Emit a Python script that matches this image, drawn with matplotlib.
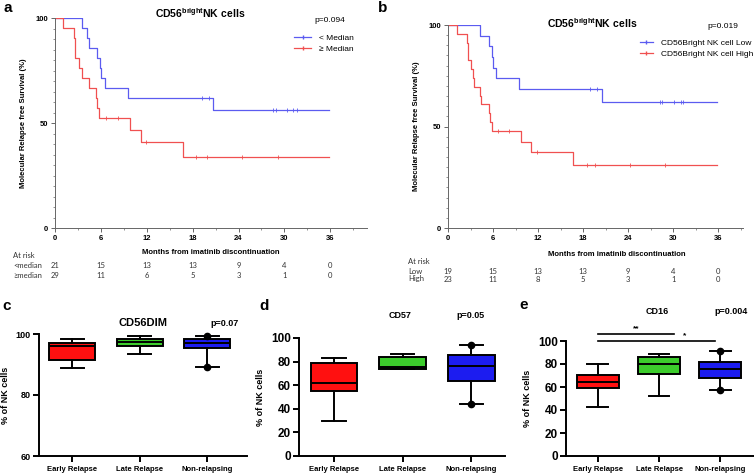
import numpy as np
import matplotlib
matplotlib.use('Agg')
import matplotlib.pyplot as plt
from matplotlib.lines import Line2D
from matplotlib.ticker import MultipleLocator
import matplotlib.transforms as mtransforms

plt.rcParams['font.family'] = ['Liberation Sans', 'DejaVu Sans']
plt.rcParams['mathtext.fontset'] = 'custom'
plt.rcParams['mathtext.rm'] = 'Liberation Sans'
plt.rcParams['mathtext.bf'] = 'Liberation Sans:bold'

# --- Kaplan-Meier data (months, % survival) ---
a_low_t = [0, 3.5, 4.2, 4.4, 5.5, 5.9, 6.0, 6.5, 9.5, 20.6, 35.8]
a_low_s = [100, 95.2, 90.5, 85.7, 81.0, 76.2, 71.4, 66.7, 61.9, 56.3, 56.3]
a_low_cens = [19.2, 20.1, 28.5, 28.9, 30.3, 31.1, 31.6]
a_high_t = [0, 1.0, 2.5, 2.55, 2.6, 3.1, 3.5, 4.4, 5.3, 5.5, 5.8, 9.8, 11.2, 16.7, 35.8]
a_high_s = [100, 95.2, 90.5, 85.7, 81.0, 76.2, 71.4, 66.7, 61.9, 57.1, 52.4, 46.6, 40.8, 34.0, 34.0]
a_high_cens = [6.7, 8.2, 11.9, 18.5, 19.9, 24.5, 29.1]

b_low_t = [0, 4.2, 5.5, 5.9, 6.0, 6.4, 9.5, 20.5, 35.8]
b_low_s = [100, 94.7, 89.5, 84.2, 78.9, 73.7, 68.4, 62.2, 62.2]
b_low_cens = [18.9, 19.8, 28.2, 28.5, 30.1, 31.1, 31.3]
b_high_t = [0, 1.2, 2.5, 2.6, 2.7, 3.1, 3.3, 3.4, 4.3, 4.35, 5.4, 5.6, 5.85, 9.7, 11.1, 16.7, 35.8]
b_high_s = [100, 95.7, 91.3, 87.0, 82.6, 78.3, 73.9, 69.6, 65.2, 60.9, 56.5, 52.2, 47.8, 42.6, 37.3, 31.0, 31.0]
b_high_cens = [6.65, 8.1, 11.8, 18.5, 19.6, 24.3, 28.9]

risk_times = [0, 6, 12, 18, 24, 30, 36]
a_risk_low = [21, 15, 13, 13, 9, 4, 0]
a_risk_high = [29, 11, 6, 5, 3, 1, 0]
b_risk_low = [19, 15, 13, 13, 9, 4, 0]
b_risk_high = [23, 11, 8, 5, 3, 1, 0]

# --- box plot summaries: (whislo, q1, med, q3, whishi) ---
groups = ['Early Relapse', 'Late Relapse', 'Non-relapsing']
cd56dim = [(88.7, 91.4, 96.2, 97.0, 98.4), (93.5, 96.2, 97.3, 98.4, 99.2), (89.3, 95.4, 97.0, 98.4, 99.3)]
cd57 = [(30.0, 54.8, 62.0, 79.0, 83.1), (73.4, 73.9, 75.6, 83.9, 86.1), (43.8, 63.7, 76.2, 85.3, 93.9)]
cd16 = [(42.8, 58.9, 64.6, 70.3, 79.6), (51.8, 71.7, 79.6, 86.4, 88.7), (57.5, 68.0, 75.4, 81.6, 91.0)]
box_colors = ['#ff1010', '#3ccc2c', '#1c1cf0']

W, H = 754, 476
fig = plt.figure(figsize=(W / 100, H / 100), dpi=100)


def px_axes(l, r, t, b):
    return fig.add_axes([l / W, 1 - b / H, (r - l) / W, (b - t) / H])


def fx(x):
    return x / W


def fy(y):
    return 1 - y / H


blue_km = '#5b5bf0'
red_km = '#f05050'
risk_kw = dict(fontsize=5.5, va='center', family=['Lato', 'DejaVu Sans'], color='#333333')


def km(ax, t, s, cens, color):
    ax.step(t, s, where='post', color=color, lw=0.9)
    idx = np.searchsorted(t, cens, side='right') - 1
    ax.plot(cens, np.array(s)[idx], ls='none', marker='|', ms=2.5, mew=0.6, color=color)


def km_axes(ax, xmax):
    ax.set_xlim(0, xmax)
    ax.set_ylim(0, 100)
    for sp in ['top', 'right']:
        ax.spines[sp].set_visible(False)
    for sp in ['left', 'bottom']:
        ax.spines[sp].set_color('#666666')
        ax.spines[sp].set_linewidth(0.7)
    ax.set_xticks(risk_times)
    ax.xaxis.set_minor_locator(MultipleLocator(3))
    ax.set_yticks([0, 50, 100])
    ax.yaxis.set_minor_locator(MultipleLocator(5))
    ax.tick_params(which='major', length=3, width=0.7, color='#666666', labelsize=5.5, pad=2)
    ax.tick_params(which='minor', length=1.5, width=0.5, color='#666666')
    for lab in ax.get_xticklabels() + ax.get_yticklabels():
        lab.set_fontweight('bold')
    ax.set_ylabel('Molecular Relapse free Survival (%)', fontsize=5.5, fontweight='bold', labelpad=6)


def km_legend(ax, labels, x, y, hl):
    h = [Line2D([0, 0.5, 1], [0, 0, 0], color=blue_km, lw=0.9, marker='|', ms=2.5, markevery=[1]),
         Line2D([0, 0.5, 1], [0, 0, 0], color=red_km, lw=0.9, marker='|', ms=2.5, markevery=[1])]
    ax.legend(h, labels, loc='upper left', bbox_to_anchor=(fx(x), fy(y)),
              bbox_transform=fig.transFigure, frameon=False, fontsize=6, handlelength=hl,
              handletextpad=1.0, labelspacing=0.35, borderpad=0)


# panel a
ax = px_axes(55, 367, 18, 228)
km(ax, a_low_t, a_low_s, a_low_cens, blue_km)
km(ax, a_high_t, a_high_s, a_high_cens, red_km)
km_axes(ax, 40.8)
km_legend(ax, ['< Median', '\u2265 Median'], 290, 30, 2.0)
fig.text(fx(200), fy(13), r'$\mathbf{CD56^{bright}NK\ cells}$', ha='center', va='center', fontsize=7.5)
fig.text(fx(330), fy(21), 'p=0.094', ha='center', va='center', fontsize=6)
fig.text(fx(4), fy(8), 'a', fontsize=11, fontweight='bold', va='center')
tr = mtransforms.blended_transform_factory(ax.transData, fig.transFigure)
fig.text(fx(211), fy(253), 'Months from imatinib discontinuation', ha='center', va='center',
         fontsize=5.5, fontweight='bold')
fig.text(fx(13), fy(256), 'At risk', **risk_kw)
fig.text(fx(13), fy(266), '<median', **risk_kw)
fig.text(fx(13), fy(276), '\u2265median', **risk_kw)
for tt, n1, n2 in zip(risk_times, a_risk_low, a_risk_high):
    ax.text(tt, fy(266), str(n1), transform=tr, ha='center', **risk_kw)
    ax.text(tt, fy(276), str(n2), transform=tr, ha='center', **risk_kw)

# panel b
ax = px_axes(448, 743, 25, 228)
km(ax, b_low_t, b_low_s, b_low_cens, blue_km)
km(ax, b_high_t, b_high_s, b_high_cens, red_km)
km_axes(ax, 39.3)
km_legend(ax, ['CD56Bright NK cell Low', 'CD56Bright NK cell High'], 636, 35, 1.5)
fig.text(fx(592), fy(23), r'$\mathbf{CD56^{bright}NK\ cells}$', ha='center', va='center', fontsize=7.5)
fig.text(fx(723), fy(26), 'p=0.019', ha='center', va='center', fontsize=6)
fig.text(fx(378), fy(8), 'b', fontsize=11, fontweight='bold', va='center')
tr = mtransforms.blended_transform_factory(ax.transData, fig.transFigure)
fig.text(fx(617), fy(255), 'Months from imatinib discontinuation', ha='center', va='center',
         fontsize=5.5, fontweight='bold')
fig.text(fx(408), fy(262), 'At risk', **risk_kw)
fig.text(fx(408), fy(271), 'Low', **risk_kw)
fig.text(fx(408), fy(279), 'High', **risk_kw)
for tt, n1, n2 in zip(risk_times, b_risk_low, b_risk_high):
    ax.text(tt, fy(271), str(n1), transform=tr, ha='center', **risk_kw)
    ax.text(tt, fy(279), str(n2), transform=tr, ha='center', **risk_kw)


def box_panel(ax, data, ylim, yticks, xlim, ysize, outlier_idx):
    stats = []
    for i, (lo, q1, med, q3, hi) in enumerate(data):
        st = dict(whislo=lo, q1=q1, med=med, q3=q3, whishi=hi, fliers=[])
        if i == outlier_idx:
            st['fliers'] = [lo, hi]
        stats.append(st)
    bp = ax.bxp(stats, positions=[0, 1, 2], widths=0.68, patch_artist=True,
                boxprops=dict(lw=1.4, edgecolor='black'),
                medianprops=dict(color='black', lw=1.4),
                whiskerprops=dict(lw=1.4), capprops=dict(lw=1.4),
                flierprops=dict(marker='o', markerfacecolor='black', markeredgecolor='black', markersize=4.5))
    for patch, c in zip(bp['boxes'], box_colors):
        patch.set_facecolor(c)
    for art in bp['fliers'] + bp['caps'] + bp['whiskers']:
        art.set_clip_on(False)
    for sp in ['top', 'right']:
        ax.spines[sp].set_visible(False)
    for sp in ['left', 'bottom']:
        ax.spines[sp].set_linewidth(1.4)
    ax.set_xlim(*xlim)
    ax.set_ylim(*ylim)
    ax.set_yticks(yticks)
    ax.set_xticks([0, 1, 2])
    ax.set_xticklabels(groups)
    ax.tick_params(axis='x', length=4, width=1.4, labelsize=5.5, pad=3)
    ax.tick_params(axis='y', length=4, width=1.4, labelsize=ysize, pad=2)
    for lab in ax.get_xticklabels() + ax.get_yticklabels():
        lab.set_fontweight('bold')
    ax.set_ylabel('% of NK cells', fontsize=6.5, fontweight='bold', labelpad=4)


# panel c
ax = px_axes(39, 247, 334, 456)
box_panel(ax, cd56dim, (60, 100), [60, 80, 100], (-0.49, 2.59), 6.5, 2)
fig.text(fx(143), fy(323), 'CD56DIM', ha='center', va='center', fontsize=8, fontweight='bold')
fig.text(fx(225), fy(324), 'p=0.07', ha='center', va='center', fontsize=6.5, fontweight='bold')
fig.text(fx(2), fy(306), 'c', fontsize=11, fontweight='bold', va='center')

# panel d
ax = px_axes(299, 505, 338, 456)
box_panel(ax, cd57, (0, 100), [0, 20, 40, 60, 80, 100], (-0.51, 2.49), 8.5, 2)
fig.text(fx(400), fy(315), 'CD57', ha='center', va='center', fontsize=6.5, fontweight='bold')
fig.text(fx(470), fy(315), 'p=0.05', ha='center', va='center', fontsize=6.5, fontweight='bold')
fig.text(fx(259), fy(306), 'd', fontsize=11, fontweight='bold', va='center')

# panel e
ax = px_axes(566, 754, 341, 456)
box_panel(ax, cd16, (0, 100), [0, 20, 40, 60, 80, 100], (-0.52, 2.55), 8.5, 2)
ax.plot([0, 1.25], [106, 106], color='black', lw=1.2, clip_on=False)
ax.plot([0, 1.92], [100.3, 100.3], color='black', lw=1.2, clip_on=False)
ax.text(0.62, 107.5, '**', ha='center', va='bottom', fontsize=6, fontweight='bold')
ax.text(1.42, 101.8, '*', ha='center', va='bottom', fontsize=6, fontweight='bold')
fig.text(fx(657), fy(311), 'CD16', ha='center', va='center', fontsize=6.5, fontweight='bold')
fig.text(fx(731), fy(311), 'p=0.004', ha='center', va='center', fontsize=6.5, fontweight='bold')
fig.text(fx(519), fy(305), 'e', fontsize=11, fontweight='bold', va='center')

fig.savefig('out.png', dpi=100)
